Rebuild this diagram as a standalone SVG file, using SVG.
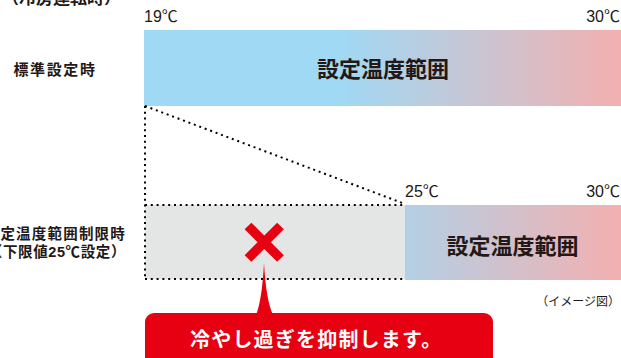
<svg xmlns="http://www.w3.org/2000/svg" width="621" height="358" viewBox="0 0 621 358">
<style>
.jp{font-family:"Noto Sans CJK JP","Noto Sans",sans-serif;fill:#231815}
.lb{font-family:"Liberation Sans","Noto Sans CJK JP",sans-serif;fill:#231815}
.num{font-family:"Liberation Sans","Noto Sans CJK JP",sans-serif;font-size:16px;fill:#231815}
.b{font-weight:700}
.dot{fill:none;stroke:#000;stroke-width:2;stroke-dasharray:2 3.8}
</style>
<defs>
<linearGradient id="grad" gradientUnits="userSpaceOnUse" x1="144" y1="0" x2="621" y2="0">
<stop offset="0" stop-color="#a0d9f4"/>
<stop offset="0.41" stop-color="#a0d9f4"/>
<stop offset="1" stop-color="#f3b0b0"/>
</linearGradient>
</defs>
<rect width="621" height="358" fill="#fff"/>
<text class="jp b" x="121" y="4" font-size="17" text-anchor="end">（冷房運転時）</text>

<g id="standard">
<rect x="144" y="30" width="477" height="76" fill="url(#grad)"/>
<text class="num" x="144" y="22">19℃</text>
<text class="num" x="620" y="22" text-anchor="end">30℃</text>
<text class="jp b" x="383" y="76.5" font-size="22" text-anchor="middle">設定温度範囲</text>
<text class="jp b" x="55" y="75" font-size="15" letter-spacing="1.6" text-anchor="middle">標準設定時</text>
</g>

<g id="limited">
<rect x="145" y="205" width="260" height="74" fill="#e4e5e5"/>
<rect x="405" y="205" width="216" height="75" fill="url(#grad)"/>
<text class="num" x="405" y="197">25℃</text>
<text class="num" x="620" y="197" text-anchor="end">30℃</text>
<text class="jp b" x="512.5" y="253.5" font-size="22" text-anchor="middle">設定温度範囲</text>
<text class="lb b" x="126" y="238.5" font-size="14.5" letter-spacing="1.2" text-anchor="end">設定温度範囲制限時</text>
<text class="lb b" x="126" y="257" font-size="14.5" letter-spacing="0.6" text-anchor="end">（下限値25℃設定）</text>
<path d="M248 226 L280.5 258.5 M280.5 226 L248 258.5" stroke="#e60012" stroke-width="9.5" fill="none"/>
</g>

<g id="connectors">
<line class="dot" x1="145" y1="106" x2="145" y2="280"/>
<line class="dot" x1="145" y1="205" x2="405" y2="205"/>
<line class="dot" x1="145" y1="279" x2="405" y2="279"/>
<line class="dot" x1="145" y1="106" x2="405" y2="204"/>
</g>

<g id="callout">
<path d="M256 315 Q262 300 264 263 Q266 300 273 315 Z" fill="#e60012"/>
<rect x="145" y="313" width="348" height="60" rx="9" fill="#e60012"/>
<text class="jp b" x="190" y="346.5" font-size="20" letter-spacing="1.2" style="fill:#fff">冷やし過ぎを抑制します。</text>
</g>

<text class="jp" x="620" y="306" font-size="12" text-anchor="end">（イメージ図）</text>
</svg>
